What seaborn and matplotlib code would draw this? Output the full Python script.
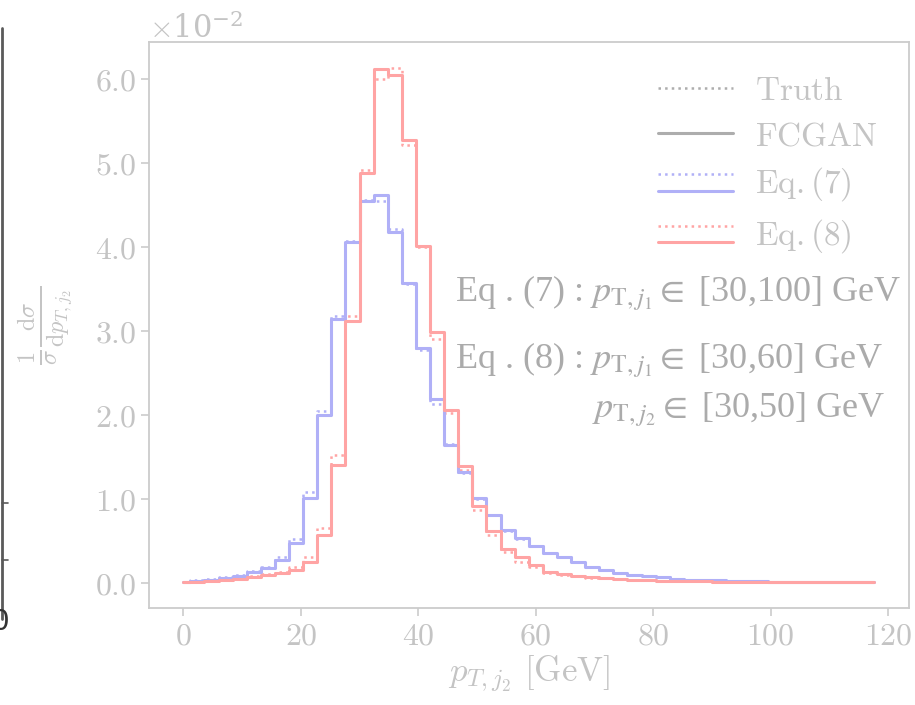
import numpy as np
import matplotlib
matplotlib.use("Agg")
import matplotlib.pyplot as plt
import seaborn as sns
from matplotlib.lines import Line2D
from matplotlib.legend_handler import HandlerBase
from matplotlib.ticker import ScalarFormatter, MultipleLocator

sns.set_theme(style="ticks")
plt.rcParams["mathtext.fontset"] = "cm"
plt.rcParams["font.family"] = ["DejaVu Serif"]

# ---------------- data (values in units of 1e-2) ----------------
bin_edges = np.linspace(0, 120, 51)
x_bins = bin_edges[:-1]
scale = 1e-2

eq7_fcgan = [0.008, 0.024, 0.036, 0.059, 0.083, 0.127, 0.17, 0.27, 0.47, 1.01,
             2.00, 3.14, 4.05, 4.54, 4.62, 4.18, 3.57, 2.79, 2.19, 1.64,
             1.32, 1.01, 0.81, 0.63, 0.53, 0.44, 0.35, 0.31, 0.245, 0.19,
             0.155, 0.12, 0.095, 0.075, 0.067, 0.048, 0.036, 0.030, 0.026, 0.022,
             0.018, 0.015, 0.013, 0.011, 0.009, 0.008, 0.007, 0.006, 0.005, 0.004]
eq7_truth = [0.01, 0.03, 0.04, 0.065, 0.09, 0.135, 0.18, 0.30, 0.52, 1.08,
             2.04, 3.17, 4.07, 4.55, 4.54, 4.21, 3.55, 2.77, 2.13, 1.65,
             1.30, 1.00, 0.80, 0.62, 0.52, 0.43, 0.35, 0.30, 0.24, 0.19,
             0.15, 0.12, 0.095, 0.075, 0.065, 0.048, 0.037, 0.030, 0.025, 0.021,
             0.018, 0.015, 0.012, 0.010, 0.009, 0.008, 0.007, 0.006, 0.005, 0.004]
eq8_fcgan = [0.004, 0.012, 0.024, 0.036, 0.048, 0.067, 0.087, 0.115, 0.154, 0.25,
             0.57, 1.40, 3.12, 4.88, 6.11, 6.04, 5.27, 4.01, 2.98, 2.06,
             1.39, 0.91, 0.61, 0.40, 0.30, 0.21, 0.13, 0.107, 0.083, 0.067,
             0.055, 0.044, 0.036, 0.028, 0.024, 0.020, 0.017, 0.015, 0.013, 0.011,
             0.010, 0.009, 0.008, 0.007, 0.006, 0.005, 0.005, 0.005, 0.005, 0.005]
eq8_truth = [0.005, 0.015, 0.028, 0.04, 0.055, 0.075, 0.10, 0.13, 0.19, 0.30,
             0.65, 1.52, 3.17, 4.91, 5.99, 6.13, 5.21, 3.99, 2.90, 2.02,
             1.34, 0.87, 0.57, 0.37, 0.25, 0.18, 0.12, 0.095, 0.075, 0.06,
             0.05, 0.04, 0.033, 0.027, 0.023, 0.019, 0.016, 0.014, 0.012, 0.011,
             0.010, 0.009, 0.008, 0.007, 0.006, 0.005, 0.005, 0.005, 0.005, 0.005]

legend_labels = ["Truth", "FCGAN", "Eq.(7)", "Eq.(8)"]
x_ticks = [0, 20, 40, 60, 80, 100, 120]

# ---------------- styling ----------------
BLUE = "#b0b0f7"
RED = "#ffa4a4"
GREY_LINE = "#adadad"
TXT = "#c4c4c4"
TXT_DARK = "#ababab"
SPINE = "#cccccc"

W, H = 915, 705
fig = plt.figure(figsize=(W / 100, H / 100), dpi=100)
ax = fig.add_axes([148.8 / W, (H - 608) / H, 759.9 / W, 566 / H])

lw_solid = 2.2
lw_dot = 1.8
for vals, col in [(eq7_truth, BLUE), (eq8_truth, RED)]:
    sns.lineplot(x=x_bins, y=np.array(vals) * scale, ax=ax, color=col,
                 drawstyle="steps-mid", linestyle=":", lw=lw_dot, estimator=None)
for vals, col in [(eq7_fcgan, BLUE), (eq8_fcgan, RED)]:
    sns.lineplot(x=x_bins, y=np.array(vals) * scale, ax=ax, color=col,
                 drawstyle="steps-mid", linestyle="-", lw=lw_solid, estimator=None)

ax.set_xticks(x_ticks)
ax.set_xticklabels([f"${t}$" for t in x_ticks])
ax.yaxis.set_major_locator(MultipleLocator(1e-2))


class OneDecFormatter(ScalarFormatter):
    def _set_format(self):
        self.format = "$%1.1f$"


fmt = OneDecFormatter(useMathText=True)
fmt.set_powerlimits((-1, 1))
ax.yaxis.set_major_formatter(fmt)

ax.tick_params(axis="both", colors=SPINE, labelcolor=TXT, labelsize=23,
               length=6, width=1.2, direction="out", pad=3)
ax.yaxis.get_offset_text().set_fontsize(22)
ax.yaxis.get_offset_text().set_color(TXT)
for sp in ax.spines.values():
    sp.set_color(SPINE)
    sp.set_linewidth(1.3)

ax.set_xlabel(r"$p_{T,j_2}\ [\mathrm{GeV}]$", fontsize=25, color=TXT, labelpad=2)
ax.set_ylabel(r"$\frac{1}{\sigma}\frac{\mathrm{d}\sigma}{\mathrm{d}p_{T,j_2}}$",
              fontsize=25, color=TXT, labelpad=14)


# legend with stacked dotted/solid handles
class HandlerStack(HandlerBase):
    def create_artists(self, legend, orig_handle, xdescent, ydescent, width,
                       height, fontsize, trans):
        col, mode = orig_handle
        arts = []
        if mode in ("dot", "both"):
            yy = height * (0.8 if mode == "both" else 0.5) - ydescent
            arts.append(Line2D([-xdescent, width - xdescent], [yy, yy],
                               color=col, ls=":", lw=lw_dot, transform=trans))
        if mode in ("solid", "both"):
            yy = height * (0.1 if mode == "both" else 0.5) - ydescent
            arts.append(Line2D([-xdescent, width - xdescent], [yy, yy],
                               color=col, ls="-", lw=lw_solid, transform=trans))
        return arts


handles = [(GREY_LINE, "dot"), (GREY_LINE, "solid"), (BLUE, "both"), (RED, "both")]
leg = ax.legend(handles, [rf"$\mathrm{{{l}}}$" for l in legend_labels],
                handler_map={tuple: HandlerStack()}, loc="upper right",
                bbox_to_anchor=(0.999, 0.995), frameon=False, fontsize=24,
                handlelength=2.25, handletextpad=0.66, labelspacing=0.4)
for t in leg.get_texts():
    t.set_color(TXT)

# annotations
ann_kw = dict(fontsize=26, color=TXT_DARK, family=["Liberation Serif"],
              math_fontfamily="stix", transform=fig.transFigure, va="center")
fig.text(455 / W, 1 - 293 / H,
         r"Eq . (7) : $p_{\mathrm{T},j_1} \in$ [30,100] GeV", ha="left", **ann_kw)
fig.text(455 / W, 1 - 360 / H,
         r"Eq . (8) : $p_{\mathrm{T},j_1} \in$ [30,60] GeV", ha="left", **ann_kw)
fig.text(885 / W, 1 - 410 / H,
         r"$p_{\mathrm{T},j_2} \in$ [30,50] GeV", ha="right", **ann_kw)

# remnant of neighbouring panel at far left
fig.add_artist(Line2D([2 / W, 2 / W], [1 - 28 / H, 1 - 619 / H],
                      color="#5a5a5a", lw=2, transform=fig.transFigure))
for yy in (503, 560):
    fig.add_artist(Line2D([2 / W, 8 / W], [1 - yy / H, 1 - yy / H],
                          color="#5a5a5a", lw=1.2, transform=fig.transFigure))
fig.text(-9 / W, 1 - 622 / H, "0", fontsize=20, color="#333333",
         va="center", ha="left", family=["DejaVu Sans"])

fig.savefig("out.png", dpi=100)
